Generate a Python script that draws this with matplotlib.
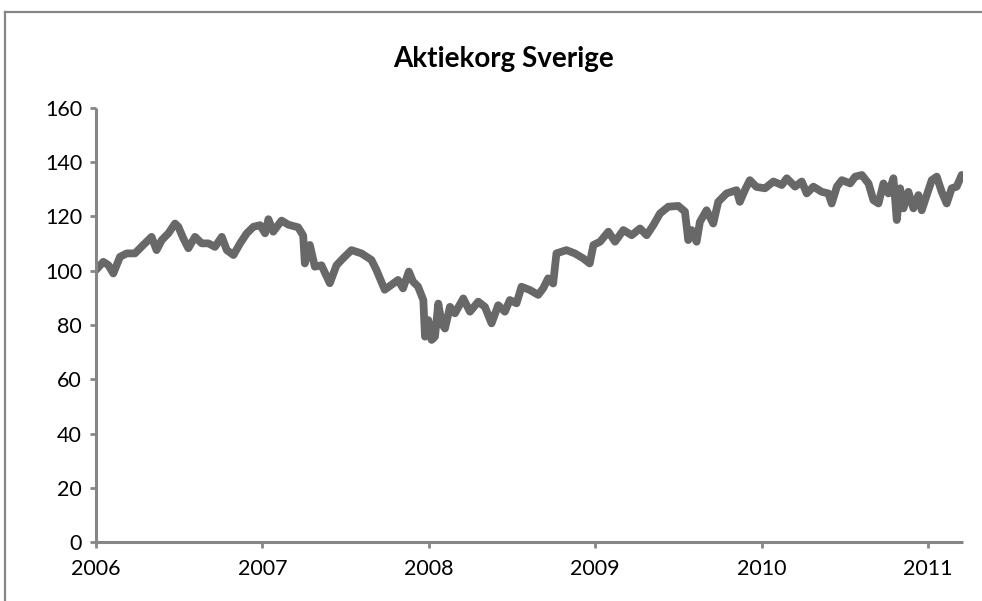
import matplotlib
matplotlib.use("Agg")
from matplotlib import pyplot as plt
from matplotlib.lines import Line2D

# index values (x as fractional year)
years = [
    2006.000, 2006.044, 2006.074, 2006.104, 2006.144, 2006.184, 2006.234,
    2006.284, 2006.334, 2006.364, 2006.395, 2006.435, 2006.475, 2006.495,
    2006.525, 2006.555, 2006.595, 2006.635, 2006.675, 2006.715, 2006.756,
    2006.786, 2006.826, 2006.866, 2006.906, 2006.946, 2006.986, 2007.016,
    2007.036, 2007.065, 2007.115, 2007.155, 2007.215, 2007.245, 2007.255,
    2007.285, 2007.315, 2007.355, 2007.405, 2007.445, 2007.485, 2007.535,
    2007.595, 2007.655, 2007.685, 2007.735, 2007.775, 2007.815, 2007.845,
    2007.880, 2007.905, 2007.935, 2007.967, 2007.977, 2007.997, 2008.017,
    2008.037, 2008.057, 2008.077, 2008.097, 2008.127, 2008.157, 2008.207,
    2008.247, 2008.297, 2008.337, 2008.377, 2008.417, 2008.457, 2008.487,
    2008.527, 2008.557, 2008.607, 2008.657, 2008.687, 2008.717, 2008.747,
    2008.767, 2008.827, 2008.877, 2008.927, 2008.967, 2008.989, 2009.029,
    2009.079, 2009.119, 2009.169, 2009.219, 2009.269, 2009.309, 2009.349,
    2009.389, 2009.439, 2009.499, 2009.539, 2009.559, 2009.579, 2009.609,
    2009.629, 2009.669, 2009.709, 2009.739, 2009.789, 2009.849, 2009.869,
    2009.899, 2009.929, 2009.969, 2010.020, 2010.071, 2010.121, 2010.151,
    2010.201, 2010.241, 2010.271, 2010.311, 2010.361, 2010.401, 2010.421,
    2010.452, 2010.482, 2010.532, 2010.562, 2010.602, 2010.642, 2010.672,
    2010.702, 2010.732, 2010.762, 2010.792, 2010.812, 2010.832, 2010.852,
    2010.882, 2010.912, 2010.942, 2010.962, 2010.992, 2011.022, 2011.052,
    2011.082, 2011.112, 2011.142, 2011.172, 2011.202,
]
values = [
    100.3, 103.3, 102.1, 99.0, 105.1, 106.4, 106.4,
    109.5, 112.5, 107.6, 111.3, 113.8, 117.4, 116.2,
    111.9, 108.3, 112.5, 110.1, 110.1, 108.8, 112.5,
    107.6, 105.8, 110.1, 113.8, 116.2, 116.8, 113.8,
    119.0, 114.4, 118.5, 117.0, 116.0, 113.0, 102.7,
    109.5, 101.5, 102.0, 95.4, 102.0, 104.6, 107.6,
    106.4, 104.0, 100.3, 93.0, 94.8, 96.6, 93.5,
    99.7, 96.0, 94.2, 89.2, 75.7, 81.8, 74.5,
    75.7, 87.9, 80.6, 78.7, 86.7, 84.3, 89.8,
    84.9, 88.6, 86.7, 80.6, 87.3, 84.9, 89.2,
    88.0, 94.1, 92.9, 91.1, 93.5, 97.2, 95.3,
    106.4, 107.6, 106.4, 104.6, 102.7, 109.5, 110.7,
    114.4, 110.7, 115.0, 113.1, 115.6, 113.1, 116.8,
    121.1, 123.6, 123.9, 121.8, 111.3, 115.0, 110.7,
    118.0, 122.3, 117.4, 125.4, 128.5, 129.7, 125.4,
    129.7, 133.4, 130.9, 130.4, 132.9, 131.6, 134.1,
    131.0, 132.9, 128.5, 131.0, 129.1, 128.5, 124.8,
    131.0, 133.4, 132.2, 134.7, 135.3, 132.2, 126.0,
    124.8, 132.2, 128.5, 134.1, 118.7, 130.4, 123.0,
    129.1, 123.0, 127.9, 122.3, 127.9, 133.4, 134.7,
    129.1, 124.8, 130.4, 131.0, 135.3,
]
year_ticks = [2006, 2007, 2008, 2009, 2010, 2011]
y_ticks = [0, 20, 40, 60, 80, 100, 120, 140, 160]

plt.rcParams['font.family'] = ['Lato', 'DejaVu Sans']
gray = "#868686"

fig = plt.figure(figsize=(9.82, 6.01), dpi=100)

# chart area border: only top and left edges are inside the crop
bx = 5 / 982
by = 1 - 12 / 601
fig.lines.append(Line2D([bx, 1.0], [by, by], transform=fig.transFigure,
                        color=gray, linewidth=1.6))
fig.lines.append(Line2D([bx, bx], [0.0, by], transform=fig.transFigure,
                        color=gray, linewidth=1.6))

ax = fig.add_axes([96 / 982, 59 / 601, 867 / 982, 434 / 601])
ax.plot(years, values, color="#686868", linewidth=5.6,
        solid_joinstyle="round", solid_capstyle="round")

ax.set_xlim(2006, 2011.21)
ax.set_ylim(0, 160)
ax.set_xticks(year_ticks)
ax.set_xticklabels([str(y) for y in year_ticks])
ax.set_yticks(y_ticks)

for s in ["top", "right"]:
    ax.spines[s].set_visible(False)
for s in ["left", "bottom"]:
    ax.spines[s].set_color(gray)
    ax.spines[s].set_linewidth(2.2)
    ax.spines[s].set_capstyle("butt")

ax.tick_params(axis="both", colors=gray, width=2, length=4,
               labelcolor="black", labelsize=15.5)
ax.tick_params(axis="x", pad=8)
ax.tick_params(axis="y", pad=6)

fig.text(504 / 982, 1 - 59 / 601, "Aktiekorg Sverige", ha="center",
         va="center", fontsize=20, fontweight="bold")

fig.savefig("out.png", dpi=100)
